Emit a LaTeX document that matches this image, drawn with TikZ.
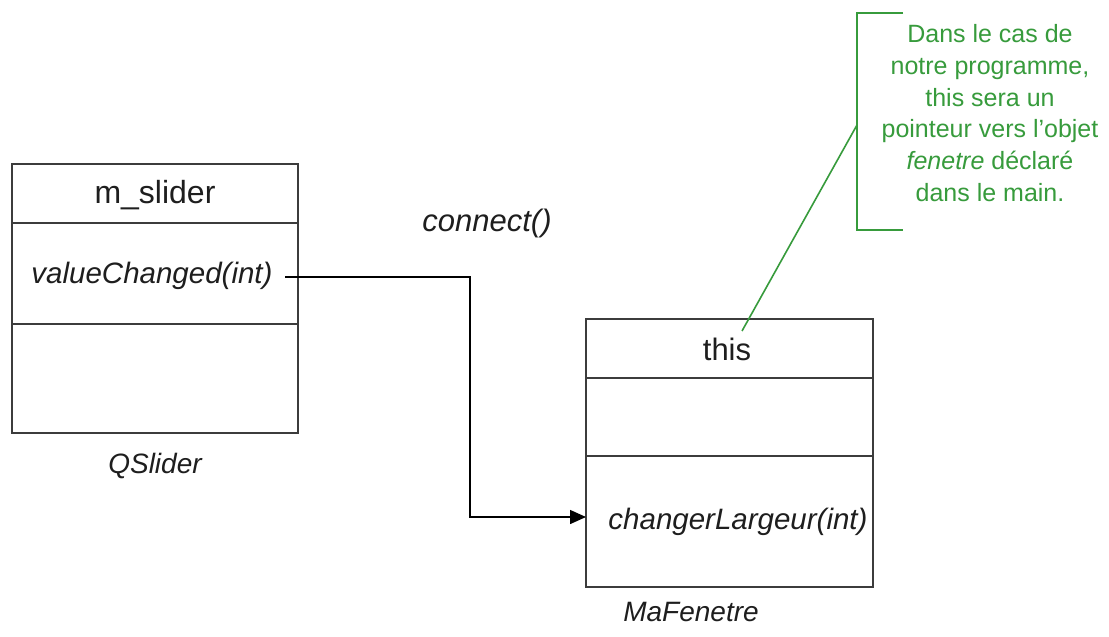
\documentclass[tikz,border=0pt]{standalone}
\usepackage{fontspec}
\setmainfont{Liberation Sans}
\usetikzlibrary{arrows.meta}
\definecolor{notegreen}{RGB}{55,155,60}
\definecolor{boxline}{RGB}{60,60,60}
\definecolor{txt}{RGB}{30,30,30}
\begin{document}
\begin{tikzpicture}[x=1pt,y=-1pt,
  comp/.style={draw=boxline,line width=1.9pt,minimum width=#1,inner sep=0pt},
  lbl/.style={text=txt,inner sep=0pt,font=\fontsize{29.5}{34}\selectfont\itshape},
  big/.style={text=txt,inner sep=0pt,font=\fontsize{32}{37}\selectfont},
  captxt/.style={text=txt,inner sep=0pt,font=\fontsize{28}{33}\selectfont\itshape},
  conn/.style={draw=black,line width=1.5pt,-{Triangle[length=16pt,width=14pt]}},
  note/.style={text=notegreen,inner sep=0pt,align=center,font=\fontsize{25}{31.7}\selectfont},
  noteline/.style={draw=notegreen,line width=1.6pt}]
\useasboundingbox (0,0) rectangle (1109,637);
\fill[white] (0,0) rectangle (1109,637);
% left object
\node[comp=286pt,minimum height=59pt] (stop) at (155,193.5) {};
\node[comp=286pt,minimum height=101pt] (smid) at (155,273.5) {};
\node[comp=286pt,minimum height=109pt] (sbot) at (155,378.5) {};
\node[big] (mslider) at (155,195) {m\_slider};
\node[lbl] (vc) at (152,276) {valueChanged(int)};
\node[captxt] (qs) at (155,466) {QSlider};
% right object
\node[comp=287pt,minimum height=59pt] (rtop) at (729.5,348.5) {};
\node[comp=287pt,minimum height=78pt] (rmid) at (729.5,417) {};
\node[comp=287pt,minimum height=131pt] (rbot) at (729.5,521.5) {};
\node[text=txt,inner sep=0pt,font=\fontsize{31}{36}\selectfont] (this) at (727,349) {this};
\node[lbl] (cl) at (738,522) {changerLargeur(int)};
\node[captxt] (mf) at (691,612) {MaFenetre};
% connect
\node[captxt,font=\fontsize{31}{36}\selectfont\itshape] (connect) at (487,223) {connect()};
\coordinate (start) at (285,277);
\coordinate (bend) at (470,400);
\coordinate (tip) at (586,517);
\draw[conn] (start) -| (bend) |- (tip);
% note
\node[note] (notetext) at (990,113) {Dans le cas de\\notre programme,\\this sera un\\pointeur vers l'objet\\\textit{fenetre} déclaré\\dans le main.};
\coordinate (btop) at (903,13);
\coordinate (bbot) at (903,230);
\coordinate (bmid) at (857,125);
\coordinate (thisTop) at (742,331);
\draw[noteline] (btop) -| (bmid) |- (bbot);
\draw[noteline] (bmid) -- (thisTop);
\end{tikzpicture}
\end{document}
